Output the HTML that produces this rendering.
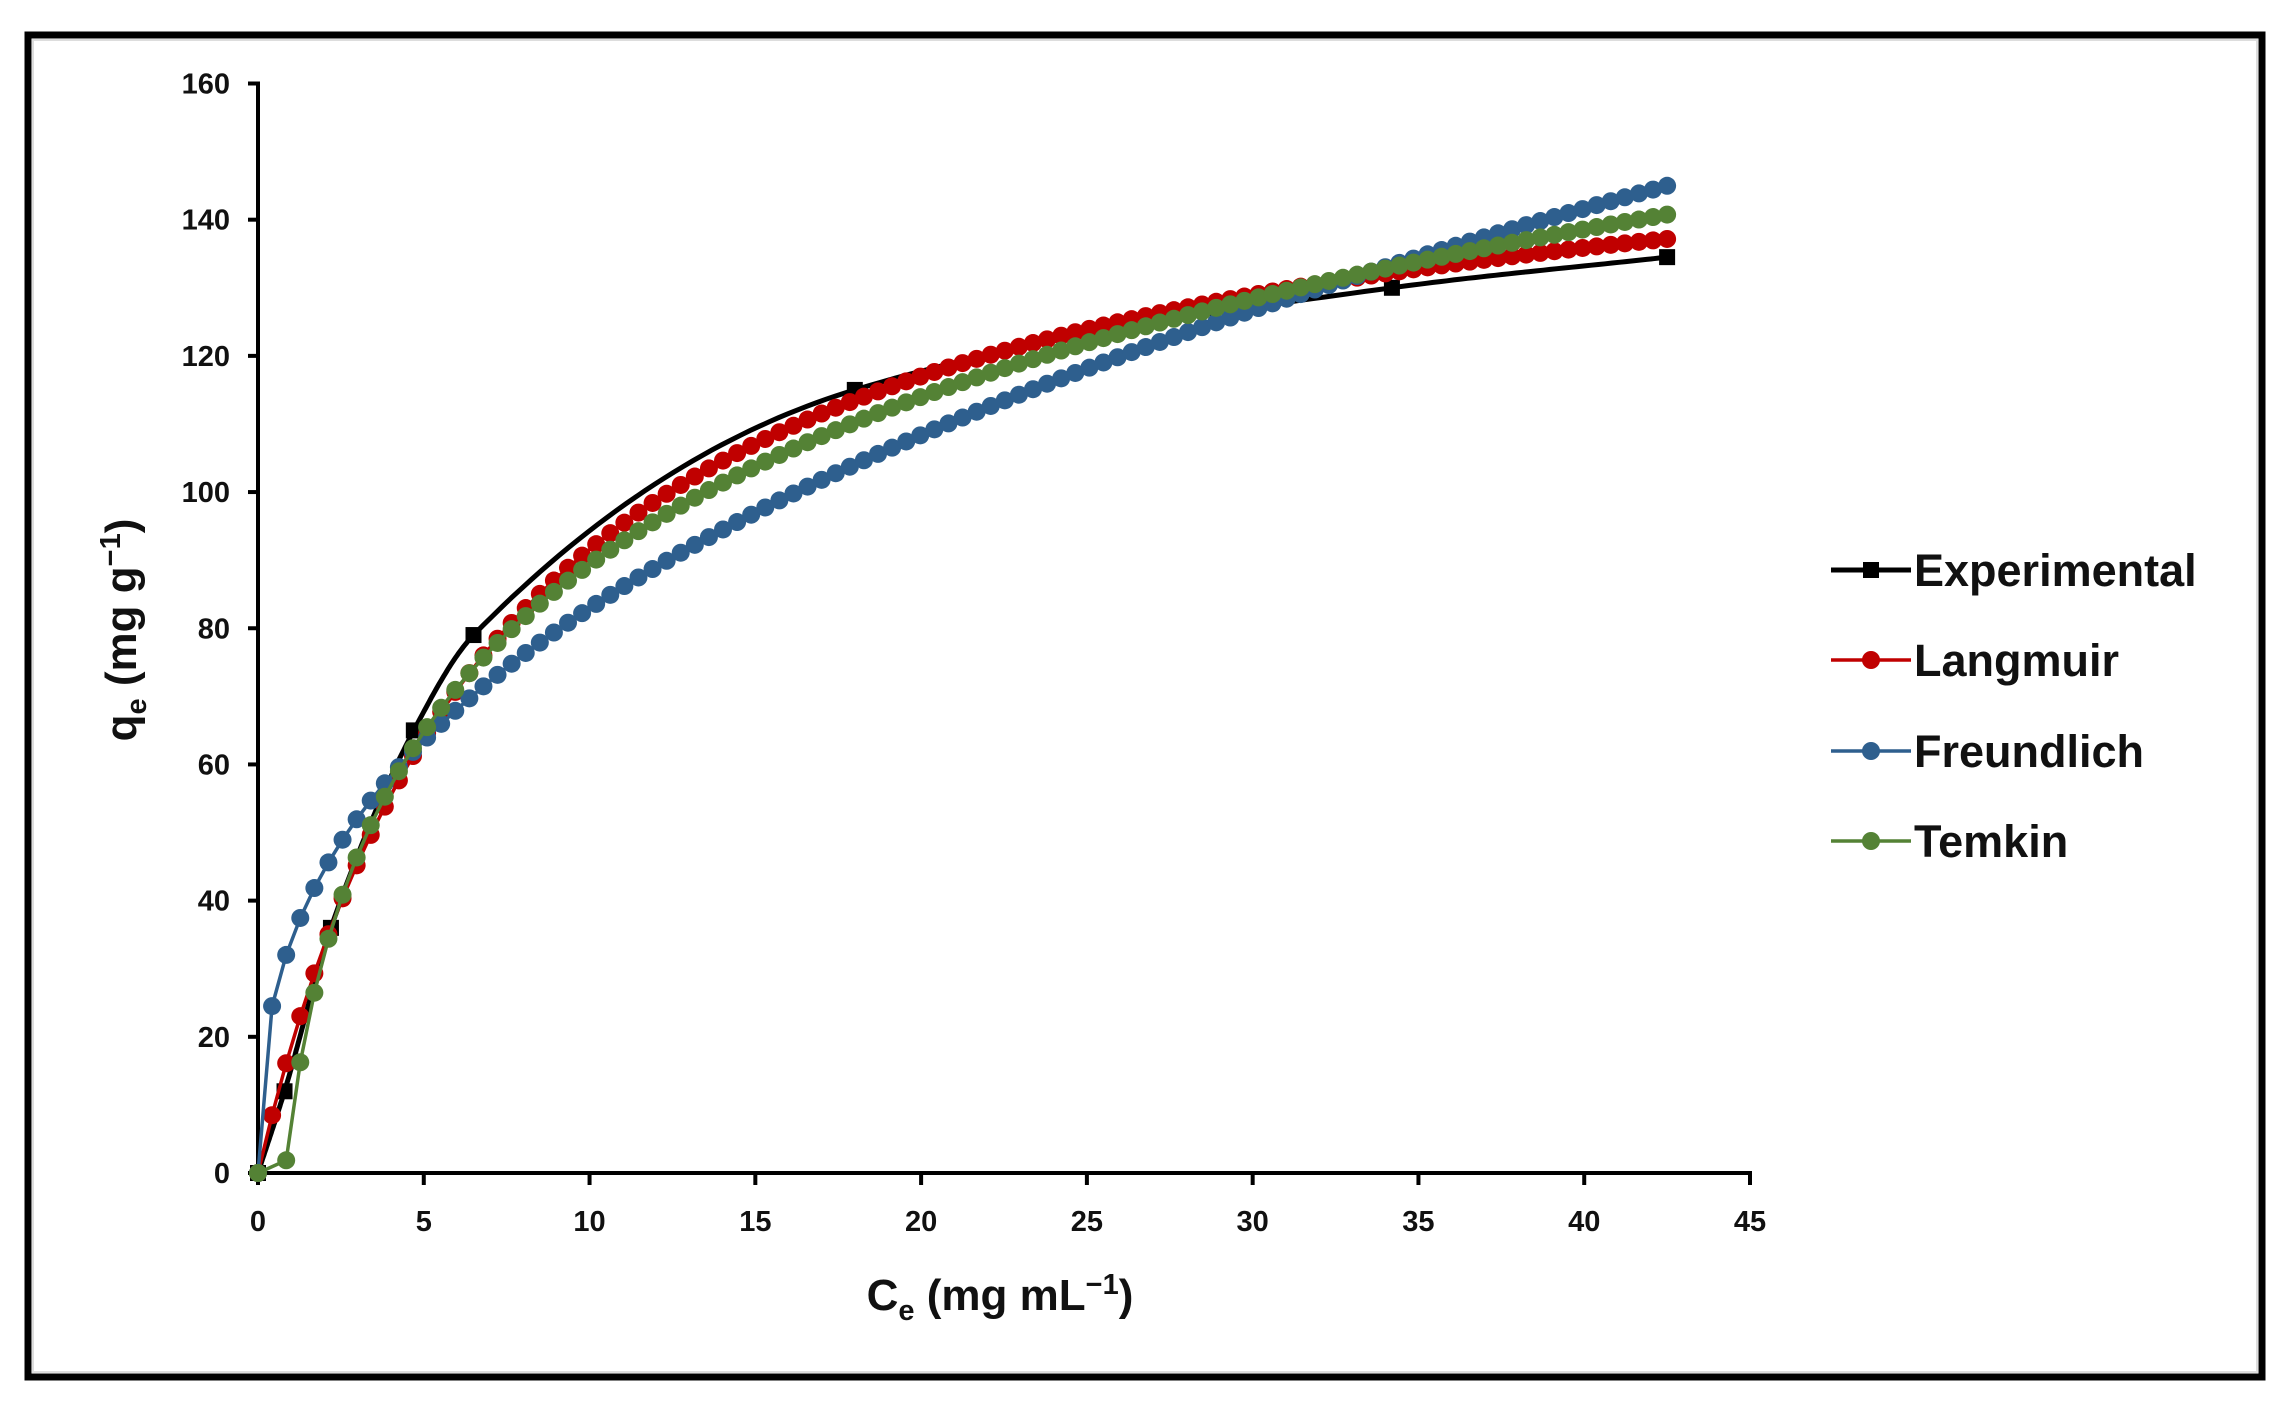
<!DOCTYPE html>
<html><head><meta charset="utf-8"><style>
html,body{margin:0;padding:0;background:#fff;}
svg{display:block;}
text{font-family:"Liberation Sans",sans-serif;font-weight:bold;fill:#111;}
</style></head><body>
<svg id="s" width="2289" height="1406" viewBox="0 0 2289 1406" xmlns="http://www.w3.org/2000/svg">
<rect x="0" y="0" width="2289" height="1406" fill="#fff"/>
<rect x="28" y="35" width="2234" height="1342" fill="none" stroke="#000" stroke-width="7"/>
<rect x="33" y="40" width="2224" height="1332" fill="none" stroke="#ddd" stroke-width="2"/>
<g id="axes" stroke="#000" stroke-width="4" fill="none"></g>
<g id="ticks"></g>
<g id="series"></g>
<text x="1000" y="1310" font-size="44" text-anchor="middle">C<tspan font-size="29" dy="10">e</tspan><tspan dy="-10"> (mg mL</tspan><tspan font-size="29" dy="-16">−1</tspan><tspan dy="16">)</tspan></text>
<text transform="translate(136,630) rotate(-90)" font-size="44" text-anchor="middle">q<tspan font-size="29" dy="10">e</tspan><tspan dy="-10"> (mg g</tspan><tspan font-size="29" dy="-16">−1</tspan><tspan dy="16">)</tspan></text>
<g id="legend"></g>
</svg>
<script>
var NS="http://www.w3.org/2000/svg";
function el(p,t,a){var e=document.createElementNS(NS,t);for(var k in a)e.setAttribute(k,a[k]);p.appendChild(e);return e;}
var X0=258,X1=1750,Y0=1173,Y1=83.5;
function sx(c){return X0+(X1-X0)*c/45;}
function sy(q){return Y0-(Y0-Y1)*q/160;}
var ax=document.getElementById('axes'),tk=document.getElementById('ticks');
el(ax,'path',{d:'M'+(X0-10)+' '+Y1+' H'+X0+' V'+Y0+' H'+X1+' V'+(Y0+12)});
for(var q=0;q<=160;q+=20){var y=sy(q);el(ax,'line',{x1:X0-10,y1:y,x2:X0,y2:y});
 var t=el(tk,'text',{x:X0-28,y:y+10,'font-size':29,'text-anchor':'end'});t.textContent=q;}
for(var c=0;c<=45;c+=5){var x=sx(c);el(ax,'line',{x1:x,y1:Y0,x2:x,y2:Y0+12});
 var t=el(tk,'text',{x:x,y:Y0+58,'font-size':29,'text-anchor':'middle'});t.textContent=c;}
var S=document.getElementById('series');
function curve(f,color,start){var pts=[[0,0]];for(var i=start;i<=100;i++){var c=0.425*i;pts.push([c,Math.max(0,f(c))]);}
 var d=pts.map(function(p,i){return (i?'L':'M')+sx(p[0]).toFixed(1)+' '+sy(p[1]).toFixed(1);}).join(' ');
 el(S,'path',{d:d,stroke:color,'stroke-width':3.5,fill:'none'});
 pts.forEach(function(p){el(S,'circle',{cx:sx(p[0]),cy:sy(p[1]),r:9,fill:color});});}
var E=[[0,0],[0.8,12],[2.2,36],[4.7,65],[6.5,79],[18,115],[34.2,130],[42.5,134.5]];
var n=E.length,dl=[],m=[];
for(var i=0;i<n-1;i++)dl.push((E[i+1][1]-E[i][1])/(E[i+1][0]-E[i][0]));
m[0]=dl[0];m[n-1]=dl[n-2];
for(var i=1;i<n-1;i++){var h0=E[i][0]-E[i-1][0],h1=E[i+1][0]-E[i][0];
 m[i]=dl[i-1]*dl[i]<=0?0:3*(h0+h1)/((2*h1+h0)/dl[i-1]+(h1+2*h0)/dl[i]);}
var d='M'+sx(0)+' '+sy(0);
for(var i=0;i<n-1;i++){var h=E[i+1][0]-E[i][0];
 for(var k=1;k<=40;k++){var t=k/40,t2=t*t,t3=t2*t;
  var y=(2*t3-3*t2+1)*E[i][1]+(t3-2*t2+t)*h*m[i]+(-2*t3+3*t2)*E[i+1][1]+(t3-t2)*h*m[i+1];
  d+=' L'+sx(E[i][0]+t*h).toFixed(1)+' '+sy(y).toFixed(1);}}
el(S,'path',{d:d,stroke:'#000','stroke-width':5,fill:'none'});
E.forEach(function(p){el(S,'rect',{x:sx(p[0])-8,y:sy(p[1])-8,width:16,height:16,fill:'#000'});});
curve(function(c){return 162*0.13*c/(1+0.13*c);},'#c00000',1);
curve(function(c){return 34.1*Math.pow(c,0.386);},'#2e5f8e',1);
curve(function(c){return 35.5*Math.log(1.24*c);},'#548235',2);
var L=document.getElementById('legend');
var items=[['Experimental','#000'],['Langmuir','#c00000'],['Freundlich','#2e5f8e'],['Temkin','#548235']];
var ys=[570,660,751,841];
items.forEach(function(it,i){var y=ys[i];
 el(L,'line',{x1:1831,y1:y,x2:1911,y2:y,stroke:it[1],'stroke-width':i==0?5:3.5});
 if(i==0)el(L,'rect',{x:1863,y:y-8,width:16,height:16,fill:'#000'});else el(L,'circle',{cx:1871,cy:y,r:9,fill:it[1]});
 var t=el(L,'text',{x:1914,y:y+16,'font-size':45});t.textContent=it[0];});
</script>
</body></html>
